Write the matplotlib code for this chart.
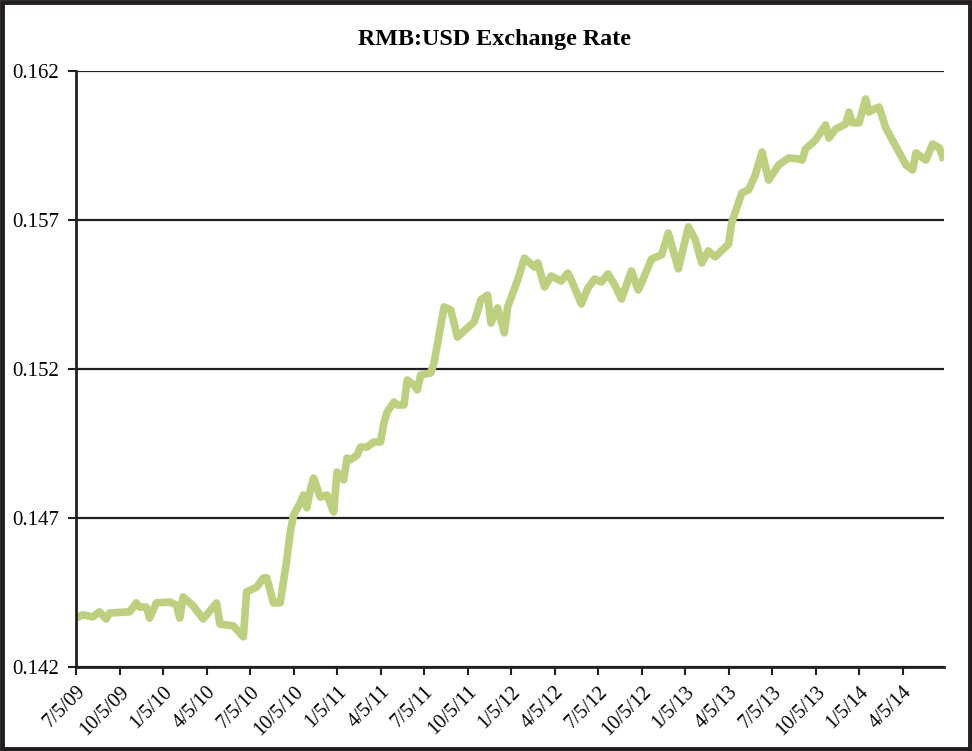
import matplotlib.pyplot as plt
from matplotlib.patches import Rectangle

plt.rcParams['font.family'] = ['Liberation Serif', 'DejaVu Serif']

# weeks since 7/5/09 and RMB:USD rate
weeks = [0, 2, 5, 7, 9, 10, 16, 18, 19, 21, 22, 24, 28, 30, 31, 32, 35, 38, 42, 43,
         47, 50, 51, 54, 56, 57, 58, 59, 61, 63, 64, 65, 67, 68, 69, 70, 71, 73, 75, 77,
         78, 80, 81, 82, 84, 85, 87, 89, 91, 92, 93, 95, 96, 98, 99, 101, 102, 103, 106, 107,
         110, 112, 114, 117, 119, 121, 123, 124, 126, 128, 129, 132, 134, 137, 138, 140, 142, 145, 147, 148,
         151, 153, 155, 157, 159, 161, 163, 166, 168, 169, 172, 175, 177, 180, 183, 185, 187, 189, 191, 195,
         196, 199, 201, 203, 205, 207, 210, 213, 216, 217, 218, 221, 224, 225, 227, 230, 231, 232, 234, 236,
         237, 238, 240, 242, 248, 250, 251, 254, 256, 258, 259]
rate = [0.14364, 0.14375, 0.14368, 0.14385, 0.14361, 0.14381, 0.14385, 0.14415, 0.14401, 0.14401,
        0.14364, 0.14415, 0.14418, 0.14408, 0.14364, 0.14435, 0.14405, 0.14361, 0.14415, 0.14344,
        0.14338, 0.14301, 0.14452, 0.14468, 0.14499, 0.14499, 0.14458, 0.14415, 0.14415, 0.14559,
        0.14650, 0.14710, 0.14750, 0.14777, 0.14734, 0.14794, 0.14834, 0.14770, 0.14777, 0.14720,
        0.14854, 0.14828, 0.14901, 0.14895, 0.14911, 0.14938, 0.14938, 0.14955, 0.14955, 0.15019,
        0.15056, 0.15089, 0.15079, 0.15079, 0.15163, 0.15146, 0.15130, 0.15180, 0.15187, 0.15220,
        0.15408, 0.15398, 0.15307, 0.15338, 0.15358, 0.15432, 0.15448, 0.15354, 0.15405, 0.15321,
        0.15408, 0.15499, 0.15572, 0.15542, 0.15556, 0.15475, 0.15512, 0.15495, 0.15522, 0.15499,
        0.15418, 0.15472, 0.15502, 0.15492, 0.15519, 0.15482, 0.15435, 0.15529, 0.15465, 0.15489,
        0.15569, 0.15583, 0.15656, 0.15536, 0.15677, 0.15636, 0.15556, 0.15596, 0.15576, 0.15619,
        0.15693, 0.15791, 0.15801, 0.15851, 0.15928, 0.15834, 0.15885, 0.15908, 0.15905, 0.15901,
        0.15938, 0.15968, 0.16019, 0.15975, 0.16005, 0.16022, 0.16062, 0.16026, 0.16026, 0.16106,
        0.16062, 0.16069, 0.16079, 0.16009, 0.15885, 0.15868, 0.15925, 0.15901, 0.15955, 0.15942,
        0.15911]

tick_labels = ['7/5/09', '10/5/09', '1/5/10', '4/5/10', '7/5/10', '10/5/10', '1/5/11',
               '4/5/11', '7/5/11', '10/5/11', '1/5/12', '4/5/12', '7/5/12', '10/5/12',
               '1/5/13', '4/5/13', '7/5/13', '10/5/13', '1/5/14', '4/5/14']
y_ticks = [0.142, 0.147, 0.152, 0.157, 0.162]

fig = plt.figure(figsize=(9.72, 7.51), dpi=100)
ax = fig.add_axes([0.0782, 0.1119, 0.8930, 0.7936])

ax.plot(weeks, rate, color='#bdd07f', lw=5.5, solid_joinstyle='round')

ax.set_xlim(0, 259.4)
ax.set_ylim(0.142, 0.162)
ax.set_yticks(y_ticks)
ax.set_yticklabels(['%.3f' % v for v in y_ticks], fontsize=15)
ax.set_xticks([13 * i for i in range(len(tick_labels))])
ax.set_xticklabels(tick_labels, rotation=45, ha='right', rotation_mode='anchor', fontsize=14.5)
ax.tick_params(axis='both', direction='out', length=6, width=1.5, color='#231f20')
ax.tick_params(axis='y', pad=6)
ax.tick_params(axis='x', pad=5)

ax.grid(axis='y', color='#231f20', lw=1.6)
ax.set_axisbelow(True)
for side in ['top', 'right']:
    ax.spines[side].set_visible(False)
for side in ['left', 'bottom']:
    ax.spines[side].set_color('#231f20')
    ax.spines[side].set_linewidth(2)

fig.text(0.509, 0.947, 'RMB:USD Exchange Rate', ha='center', va='center',
         fontsize=17.4, fontweight='bold')

fig.patches.append(Rectangle((0.002, 0.003), 0.996, 0.994, transform=fig.transFigure,
                             fill=False, edgecolor='#231f20', lw=3.5))

fig.savefig('out.png', dpi=100)
